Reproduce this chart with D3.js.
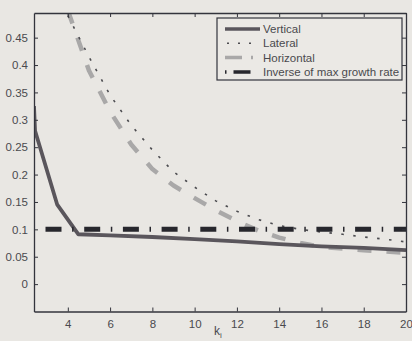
<!DOCTYPE html>
<html>
<head>
<meta charset="utf-8">
<script src="https://cdn.jsdelivr.net/npm/d3@7"></script>
<style>
  body { margin: 0; background: #e9e7e3; }
  svg { display: block; }
</style>
</head>
<body>
<svg id="chart" width="412" height="341"></svg>
<script>
// data
const kVertical = [2.4, 2.45, 3.5, 4.5, 6, 8, 10, 12, 14, 16, 18, 20];
const vertical = [0.325, 0.28, 0.145, 0.091, 0.089, 0.086, 0.082, 0.078, 0.073, 0.069, 0.066, 0.062];

const kLateral = [4, 5, 6, 7, 8, 9, 10, 11, 12, 13, 14, 15, 16, 17, 18, 19, 20];
const lateral = [0.49, 0.415, 0.345, 0.29, 0.245, 0.205, 0.177, 0.152, 0.133, 0.118, 0.107, 0.1, 0.095, 0.091, 0.086, 0.082, 0.077];

const kHorizontal = [4, 5, 6, 7, 8, 9, 10, 11, 12, 13, 14, 15, 16, 18, 20];
const horizontal = [0.5, 0.39, 0.315, 0.255, 0.21, 0.18, 0.157, 0.135, 0.115, 0.098, 0.085, 0.075, 0.068, 0.062, 0.057];

const inverseRate = 0.1;

const xTicks = [4, 6, 8, 10, 12, 14, 16, 18, 20];
const yTicks = [0, 0.05, 0.1, 0.15, 0.2, 0.25, 0.3, 0.35, 0.4, 0.45];
const legendLabels = ["Vertical", "Lateral", "Horizontal", "Inverse of max growth rate"];

const svg = d3.select("#chart");
const pLeft = 34, pRight = 406, pTop = 13, pBottom = 311.5;

const x = d3.scaleLinear().domain([2.4, 20]).range([pLeft, pRight]);
const y = d3.scaleLinear().domain([-0.05, 0.495]).range([pBottom, pTop]);

const axisColor = "#33343c";
const textColor = "#4a4a4e";

svg.append("defs").append("clipPath").attr("id", "clip")
  .append("rect").attr("x", pLeft).attr("y", pTop)
  .attr("width", pRight - pLeft).attr("height", pBottom - pTop);

// styles per series
const styles = [
  { color: "#5a565c", width: 3.8, dash: null },
  { color: "#4c4c50", width: 1.6, dash: "2.5,9.5" },
  { color: "#a9a8a8", width: 4.5, dash: "14,15" },
  { color: "#27272d", width: 5, dash: "16,10.6,1.5,10.6" }
];

const line = d3.line().x(d => x(d[0])).y(d => y(d[1]));
const plot = svg.append("g").attr("clip-path", "url(#clip)");

const series = [
  d3.zip(kVertical, vertical),
  d3.zip(kLateral, lateral),
  d3.zip(kHorizontal, horizontal),
  [[2.4, inverseRate], [20, inverseRate]]
];

// draw order: horizontal, lateral, vertical on top, inverse
[2, 1, 0, 3].forEach(i => {
  const s = styles[i];
  const p = plot.append("path")
    .datum(series[i])
    .attr("fill", "none")
    .attr("stroke", s.color)
    .attr("stroke-width", s.width)
    .attr("stroke-linejoin", "round")
    .attr("d", line);
  if (s.dash) p.attr("stroke-dasharray", s.dash);
  if (i === 3) p.attr("stroke-dashoffset", -11.5);
});

// axes box with inward ticks on all sides
const gx = svg.append("g").attr("transform", `translate(0,${pBottom})`)
  .call(d3.axisBottom(x).tickValues(xTicks).tickSizeInner(-4).tickSizeOuter(0).tickPadding(8));
const gy = svg.append("g").attr("transform", `translate(${pLeft},0)`)
  .call(d3.axisLeft(y).tickValues(yTicks).tickSizeInner(-4).tickSizeOuter(0).tickPadding(6)
    .tickFormat(d => String(+d.toFixed(2))));
const gt = svg.append("g").attr("transform", `translate(0,${pTop})`)
  .call(d3.axisTop(x).tickValues(xTicks).tickSizeInner(-4).tickSizeOuter(0).tickFormat(""));
const gr = svg.append("g").attr("transform", `translate(${pRight},0)`)
  .call(d3.axisRight(y).tickValues(yTicks).tickSizeInner(-4).tickSizeOuter(0).tickFormat(""));

[gx, gy, gt, gr].forEach(g => {
  g.select(".domain").attr("stroke", axisColor).attr("stroke-width", 1.3);
  g.selectAll(".tick line").attr("stroke", axisColor).attr("stroke-width", 1);
  g.selectAll(".tick text").attr("fill", textColor)
    .style("font-family", "'Liberation Sans', Arial, sans-serif").style("font-size", "11.5px");
});

// x label k_i
const xl = svg.append("text")
  .attr("x", 218).attr("y", 335)
  .attr("text-anchor", "middle")
  .attr("fill", textColor)
  .style("font-family", "'Liberation Sans', Arial, sans-serif")
  .style("font-size", "12px");
xl.append("tspan").text("k");
xl.append("tspan").attr("dy", 2.5).style("font-size", "8px").text("i");

// legend
const lg = svg.append("g");
lg.append("rect")
  .attr("x", 217).attr("y", 18).attr("width", 185).attr("height", 62)
  .attr("fill", "#ebe9e5").attr("stroke", axisColor).attr("stroke-width", 1.2);

legendLabels.forEach((lab, i) => {
  const yy = 29 + i * 14.3;
  const s = styles[i];
  const ln = lg.append("line")
    .attr("x1", 225).attr("x2", 260).attr("y1", yy).attr("y2", yy)
    .attr("stroke", s.color).attr("stroke-width", Math.min(s.width, 3.5));
  if (i === 1) ln.attr("stroke-dasharray", "2,9").attr("stroke-dashoffset", -2);
  if (i === 2) ln.attr("stroke-dasharray", "17,9,2,20");
  if (i === 3) ln.attr("stroke-dasharray", "1.5,7,17,20");
  lg.append("text")
    .attr("x", 263).attr("y", yy + 4)
    .attr("fill", textColor)
    .style("font-family", "'Liberation Sans', Arial, sans-serif")
    .style("font-size", "11.5px")
    .text(lab);
});
</script>
</body>
</html>
